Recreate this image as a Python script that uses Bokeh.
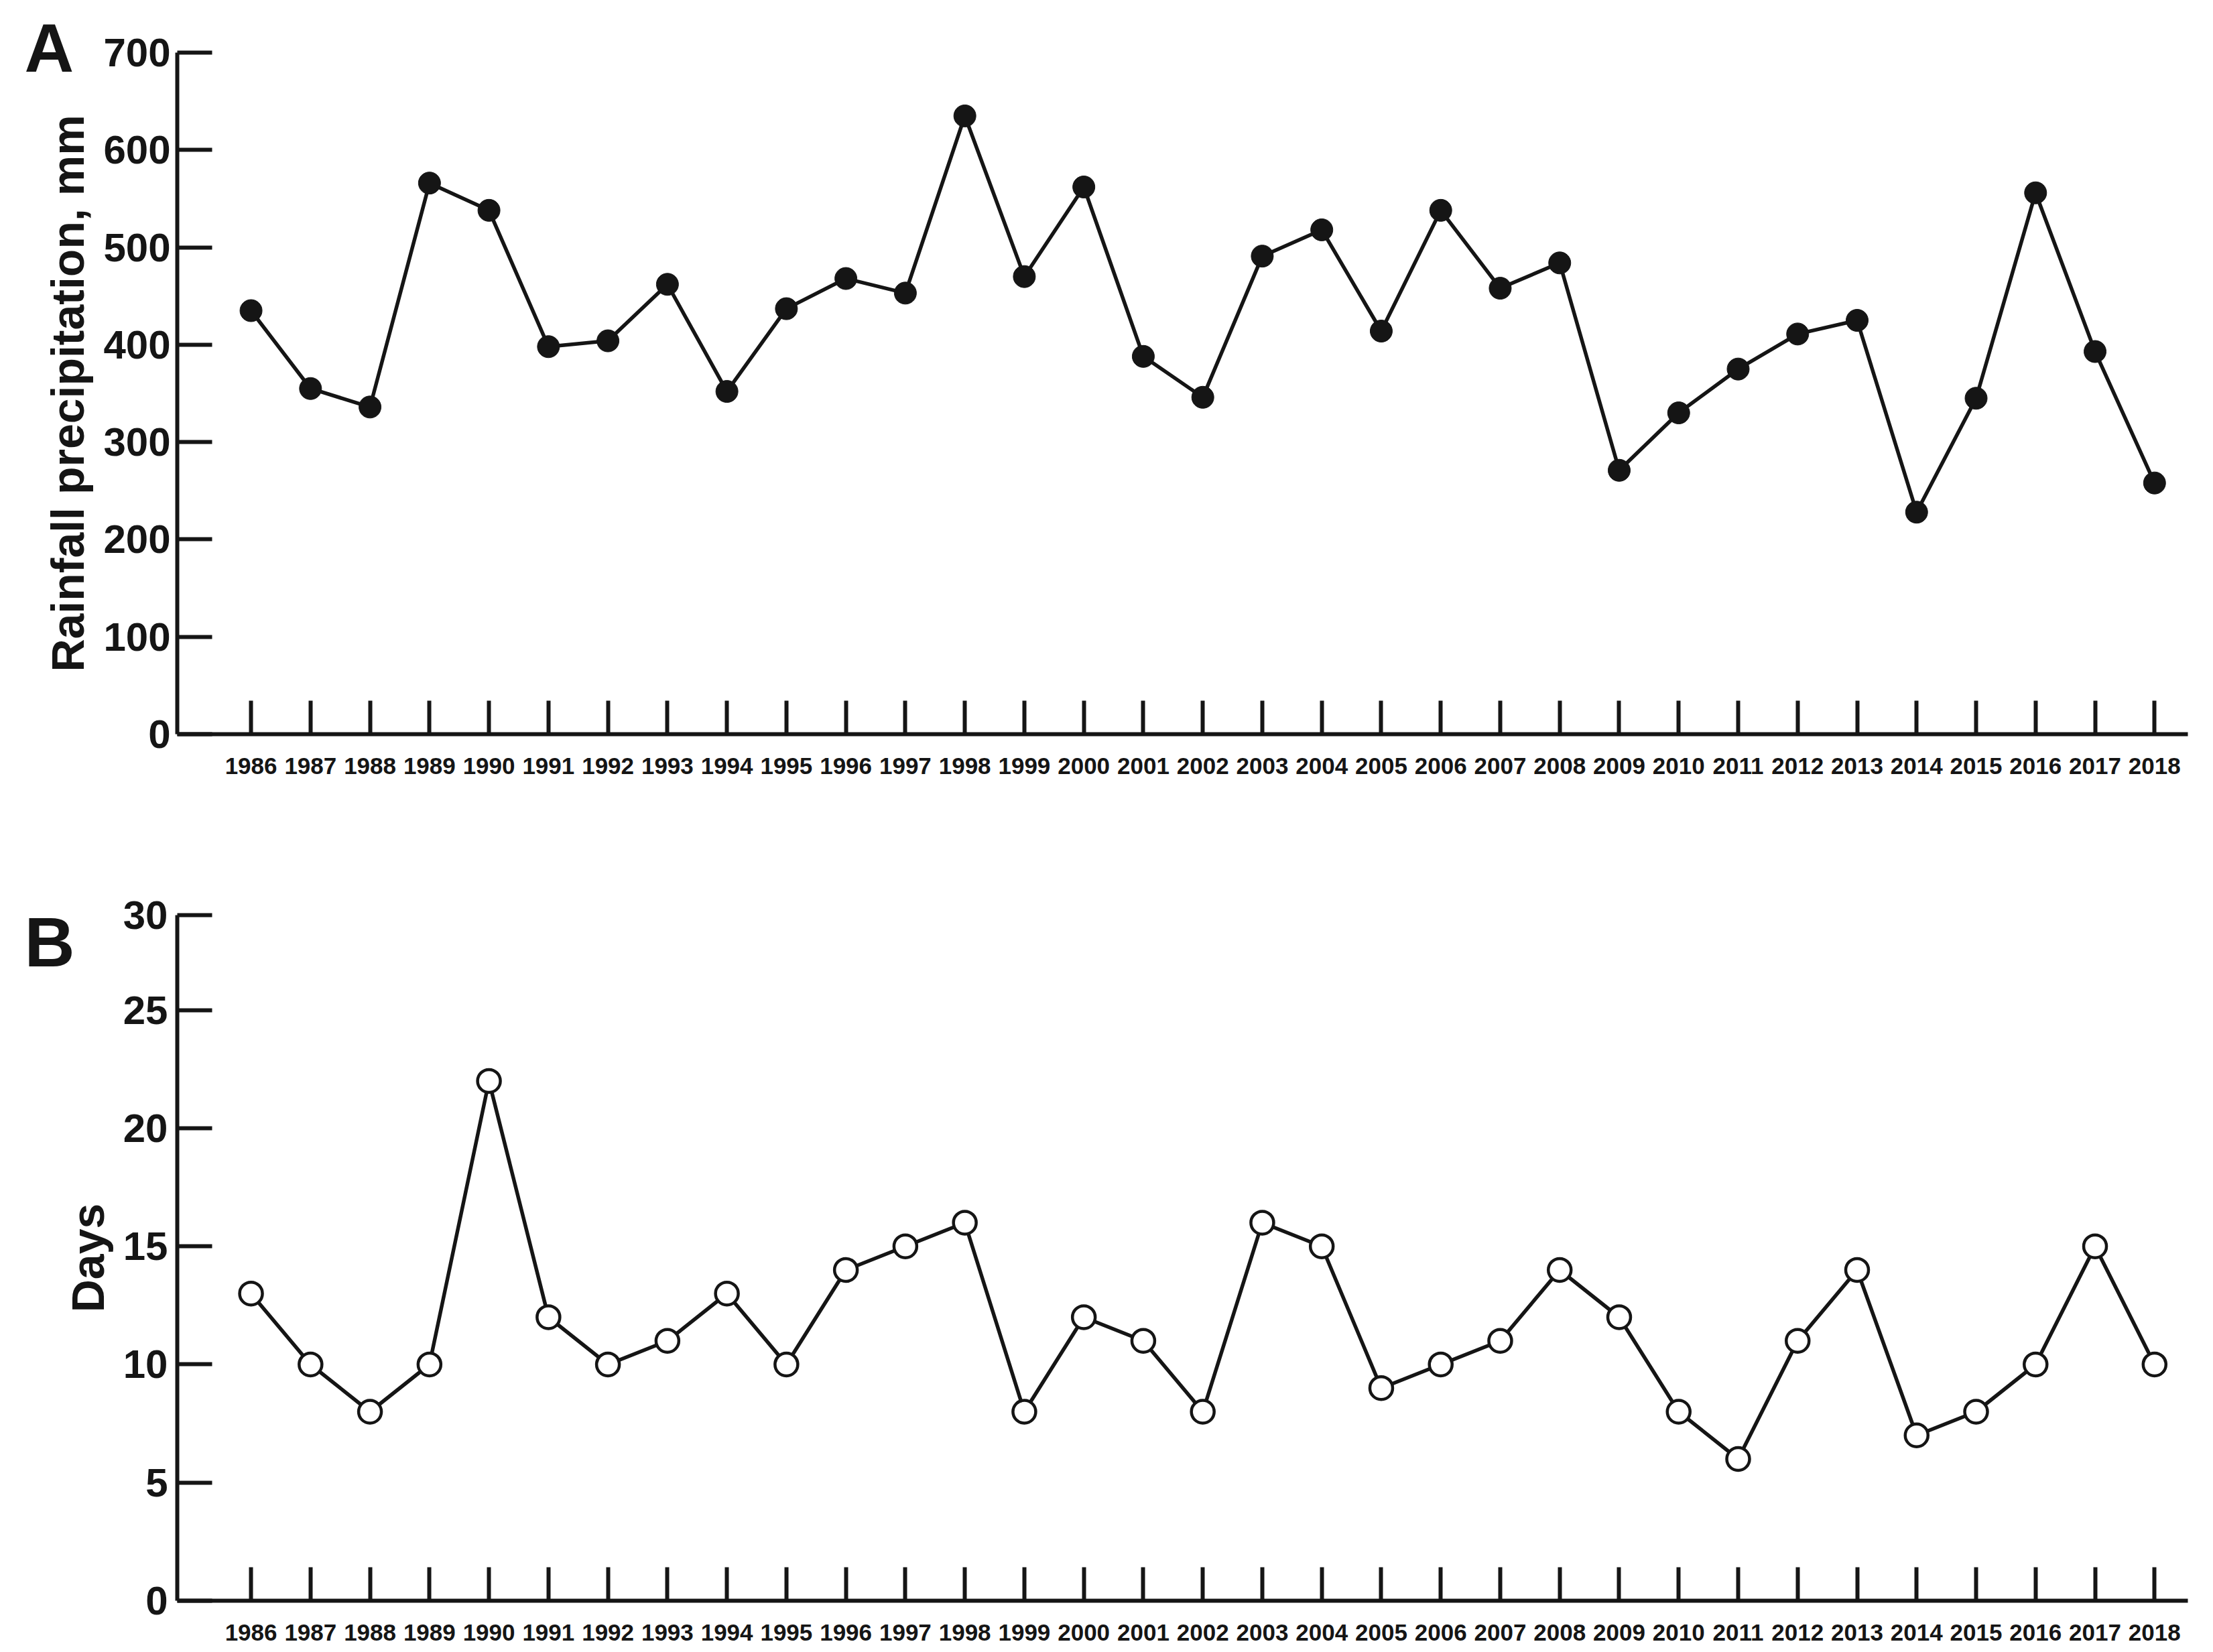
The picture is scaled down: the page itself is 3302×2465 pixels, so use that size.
from bokeh.plotting import figure
from bokeh.layouts import column
from bokeh.models import FixedTicker, Range1d, Title
from bokeh.embed import file_html
from bokeh.resources import INLINE

# ---------------- data ----------------
years = [1986, 1987, 1988, 1989, 1990, 1991, 1992, 1993, 1994, 1995, 1996,
         1997, 1998, 1999, 2000, 2001, 2002, 2003, 2004, 2005, 2006, 2007,
         2008, 2009, 2010, 2011, 2012, 2013, 2014, 2015, 2016, 2017, 2018]
year_labels = ["1986", "1987", "1988", "1989", "1990", "1991", "1992", "1993",
               "1994", "1995", "1996", "1997", "1998", "1999", "2000", "2001",
               "2002", "2003", "2004", "2005", "2006", "2007", "2008", "2009",
               "2010", "2011", "2012", "2013", "2014", "2015", "2016", "2017",
               "2018"]
rainfall_mm = [435, 355, 336, 566, 538, 398, 404, 462, 352, 437, 468,
               453, 635, 470, 562, 388, 346, 491, 518, 414, 538, 458,
               484, 271, 330, 375, 411, 425, 228, 345, 556, 393, 258]
rain_days = [13, 10, 8, 10, 22, 12, 10, 11, 13, 10, 14,
             15, 16, 8, 12, 11, 8, 16, 15, 9, 10, 11,
             14, 12, 8, 6, 11, 14, 7, 8, 10, 15, 10]
rain_ticks = [0, 100, 200, 300, 400, 500, 600, 700]
rain_tick_labels = ["0", "100", "200", "300", "400", "500", "600", "700"]
days_ticks = [0, 5, 10, 15, 20, 25, 29.02]
days_tick_labels = ["0", "5", "10", "15", "20", "25", "30"]

FONT = "Liberation Sans"
INK = "#151515"
X_START, X_END = 1984.76, 2018.56


def style(p, yticks, ylabels, tick_standoff, label_standoff):
    p.xgrid.visible = False
    p.ygrid.visible = False
    p.outline_line_color = None
    p.background_fill_color = "white"
    p.border_fill_color = "white"

    xa = p.xaxis[0]
    xa.ticker = FixedTicker(ticks=years)
    xa.major_label_overrides = {y: l for y, l in zip(years, year_labels)}
    xa.minor_tick_line_color = None
    xa.major_tick_in = 50
    xa.major_tick_out = 0
    xa.major_tick_line_width = 6
    xa.major_tick_line_color = INK
    xa.axis_line_width = 6
    xa.axis_line_color = INK
    xa.major_label_standoff = 35
    xa.major_label_text_font = FONT
    xa.major_label_text_font_style = "bold"
    xa.major_label_text_font_size = "35px"
    xa.major_label_text_color = INK

    ya = p.yaxis[0]
    ya.ticker = FixedTicker(ticks=yticks)
    ya.major_label_overrides = {t: l for t, l in zip(yticks, ylabels)}
    ya.minor_tick_line_color = None
    ya.major_tick_in = 52
    ya.major_tick_out = 0
    ya.major_tick_line_width = 6
    ya.major_tick_line_color = INK
    ya.axis_line_width = 6
    ya.axis_line_color = INK
    ya.major_label_standoff = tick_standoff
    ya.major_label_text_font = FONT
    ya.major_label_text_font_style = "bold"
    ya.major_label_text_font_size = "60px"
    ya.major_label_text_color = INK
    ya.axis_label_text_font = FONT
    ya.axis_label_text_font_style = "bold"
    ya.axis_label_text_font_size = "68px"
    ya.axis_label_text_color = INK
    ya.axis_label_standoff = label_standoff


def panel_letter(p, letter, size, offset, standoff):
    t = Title(text=letter, align="left", offset=offset, standoff=standoff,
              text_font=FONT, text_font_style="bold", text_font_size=size,
              text_color=INK)
    p.add_layout(t, "above")


# ---------------- panel A ----------------
pA = figure(width=3294, height=1175, output_backend="svg", toolbar_location=None,
            x_range=Range1d(X_START, X_END), y_range=Range1d(0, 700),
            min_border_left=264, min_border_right=30, min_border_top=78,
            min_border_bottom=80, y_axis_label="Rainfall precipitation, mm")
style(pA, rain_ticks, rain_tick_labels, 10, 12)
pA.line(years, rainfall_mm, line_color=INK, line_width=5.5)
pA.scatter(years, rainfall_mm, size=33, fill_color=INK, line_color=INK, line_width=1)
panel_letter(pA, "A", "102px", -228, -100)

# ---------------- panel B ----------------
pB = figure(width=3294, height=1289, output_backend="svg", toolbar_location=None,
            x_range=Range1d(X_START, X_END), y_range=Range1d(0, 29.02),
            min_border_left=264, min_border_right=30, min_border_top=190,
            min_border_bottom=76, y_axis_label="Days")
style(pB, days_ticks, days_tick_labels, 14, 12)
pB.line(years, rain_days, line_color=INK, line_width=5.5)
pB.scatter(years, rain_days, size=34, fill_color="white", line_color=INK, line_width=4.5)
panel_letter(pB, "B", "104px", -228, -196)

layout = column(pA, pB, spacing=0)
open("out.html", "w").write(file_html(layout, INLINE))
